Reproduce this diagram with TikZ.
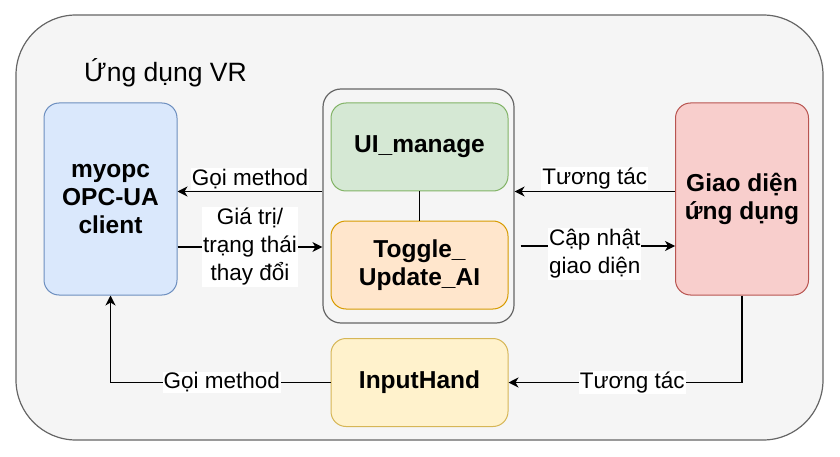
\documentclass[tikz,border=0pt]{standalone}
\usepackage{fontspec}
\setmainfont{Liberation Sans}
\usetikzlibrary{arrows.meta,calc,positioning}
\definecolor{outerF}{HTML}{F5F5F5}
\definecolor{outerD}{HTML}{666666}
\definecolor{blueF}{HTML}{DAE8FC}
\definecolor{blueD}{HTML}{6C8EBF}
\definecolor{greenF}{HTML}{D5E8D4}
\definecolor{greenD}{HTML}{82B366}
\definecolor{orangeF}{HTML}{FFE6CC}
\definecolor{orangeD}{HTML}{D79B00}
\definecolor{yellowF}{HTML}{FFF2CC}
\definecolor{yellowD}{HTML}{D6B656}
\definecolor{redF}{HTML}{F8CECC}
\definecolor{redD}{HTML}{B85450}
\tikzset{%
	box/.style    = {draw, rectangle, rounded corners=15pt, line width=1pt, align=center, text centered, font=\fontsize{24.5}{28}\selectfont\bfseries},
	wide/.style   = {box, minimum width=177pt, minimum height=88pt},
	tall/.style   = {box, minimum width=133pt, minimum height=192pt},
	grpbox/.style = {draw=outerD, fill=outerF, rectangle, rounded corners=18pt, line width=1.2pt, minimum width=191pt, minimum height=234pt},
	lbl/.style    = {fill=white, inner sep=1pt, align=center, font=\fontsize{22.5}{28}\selectfont},
	arrow/.style  = {line width=1.3pt, -{Stealth[length=10pt,width=10pt,inset=3pt]}},
	link/.style   = {line width=1.3pt},
}

\begin{document}
\begin{tikzpicture}[x=1pt,y=-1pt]
	\useasboundingbox (0,0) rectangle (840,457);
	\draw[rounded corners=60pt, fill=outerF, draw=outerD, line width=1.2pt] (16,15) rectangle (823,440);
	\node[anchor=west, inner sep=0pt, font=\fontsize{26.5}{30}\selectfont] (title) at (84,73) {Ứng dụng VR};
	
	\node[grpbox] (grp) at (418.5,206) {};
	\node[tall, fill=blueF, draw=blueD] (client) at (110.5,199) {myopc\\OPC-UA\\client};
	\node[wide, fill=greenF, draw=greenD] (ui) at (419.5,147) {UI\_manage};
	\node[wide, fill=orangeF, draw=orangeD] (tog) at (419.5,265) {Toggle\_\\Update\_AI};
	\node[wide, fill=yellowF, draw=yellowD] (hand) at (419.5,382.5) {InputHand};
	\node[tall, fill=redF, draw=redD] (app) at (742,199) {Giao diện\\ứng dụng};
	
	\draw[link] (ui) -- (tog);
	
	\draw[arrow] (grp.west |- ui.south) -- (client.east |- ui.south) node[lbl, midway, above=1pt] {Gọi method};
	\draw[arrow] ([yshift=-48pt]client.east) -- ([yshift=-48pt]client.east -| grp.west) node[lbl, midway] {Giá trị/\\trạng thái\\thay đổi};
	\draw[arrow] (app.west |- ui.south) -- (grp.east |- ui.south) node[lbl, midway, above=1pt] {Tương tác};
	\draw[arrow, shorten <=6pt] ([yshift=-47pt]app.west -| grp.east) -- ([yshift=-47pt]app.west) node[lbl, midway, yshift=-8pt] {Cập nhật\\giao diện};
	
	\draw[arrow] (app.south) |- (hand.east) node[lbl, pos=0.735] {Tương tác};
	\draw[arrow] (hand.west) -| (client.south) node[lbl, pos=0.247] {Gọi method};
\end{tikzpicture}
\end{document}
